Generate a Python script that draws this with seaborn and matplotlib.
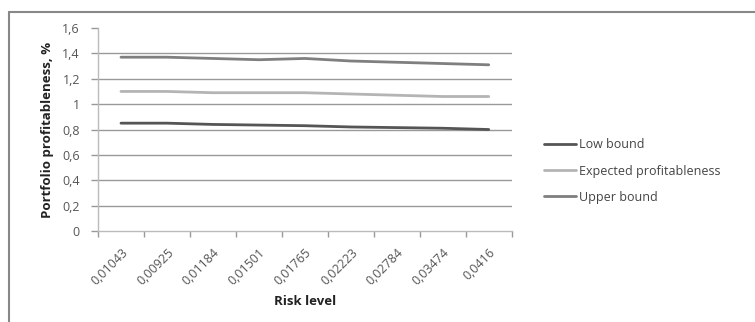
import matplotlib
matplotlib.use('Agg')
import matplotlib.pyplot as plt
from matplotlib.lines import Line2D
import seaborn as sns
import pandas as pd

# Data
risk_levels = ['0,01043', '0,00925', '0,01184', '0,01501', '0,01765',
               '0,02223', '0,02784', '0,03474', '0,0416']
low_bound = [0.85, 0.85, 0.84, 0.835, 0.83, 0.82, 0.815, 0.81, 0.80]
expected = [1.10, 1.10, 1.09, 1.09, 1.09, 1.08, 1.07, 1.06, 1.06]
upper_bound = [1.37, 1.37, 1.36, 1.35, 1.36, 1.34, 1.33, 1.32, 1.31]
series_names = ['Low bound', 'Expected profitableness', 'Upper bound']
y_ticks = [0, 0.2, 0.4, 0.6, 0.8, 1.0, 1.2, 1.4, 1.6]
y_labels = ['0', '0,2', '0,4', '0,6', '0,8', '1', '1,2', '1,4', '1,6']

colors = ['#555555', '#b4b4b4', '#7f7f7f']

sns.set_theme(style='white')
plt.rcParams['font.family'] = ['Open Sans', 'DejaVu Sans']

df = pd.DataFrame({
    'x': list(range(len(risk_levels))) * 3,
    'value': low_bound + expected + upper_bound,
    'series': [s for s in series_names for _ in risk_levels],
})

fig = plt.figure(figsize=(7.55, 3.22), dpi=100)
ax = fig.add_axes([0.1298, 0.2826, 0.548, 0.6304])

sns.lineplot(data=df, x='x', y='value', hue='series', palette=colors,
             hue_order=series_names, linewidth=2, ax=ax, legend=False)

ax.set_xlim(-0.5, len(risk_levels) - 0.5)
ax.set_ylim(0, 1.6)
ax.set_yticks(y_ticks)
ax.set_yticklabels(y_labels, fontsize=9, color='#555555')
ax.set_xticks(range(len(risk_levels)))
ax.set_xticklabels(risk_levels, rotation=45, ha='right',
                   rotation_mode='anchor', fontsize=9, color='#555555')
ax.set_xticks([i - 0.5 for i in range(len(risk_levels) + 1)], minor=True)
ax.tick_params(axis='x', which='major', length=0, pad=11)
ax.tick_params(axis='x', which='minor', length=4, color='#999999', width=1,
               bottom=True)
ax.tick_params(axis='y', length=5, color='#999999', width=1, left=True,
               pad=8)

for y in y_ticks[1:-1]:
    ax.axhline(y, color='#999999', linewidth=1, zorder=0)

for side in ['top', 'right']:
    ax.spines[side].set_visible(False)
for side in ['left', 'bottom']:
    ax.spines[side].set_color('#bbbbbb')
    ax.spines[side].set_linewidth(1)

ax.set_xlabel('Risk level', fontsize=9.5, fontweight='bold', labelpad=5,
              color='#222222')
ax.set_ylabel('Portfolio profitableness, %', fontsize=9.5, fontweight='bold',
              labelpad=6, color='#222222')

handles = [Line2D([], [], color=c, linewidth=2) for c in colors]
fig.legend(handles, series_names, loc='upper left',
           bbox_to_anchor=(0.705, 0.605), frameon=False, fontsize=9,
           handlelength=2.6, handletextpad=0.2, labelspacing=1.05,
           labelcolor='#444444')

# Chart frame (only top and left edges visible in the crop)
fig.add_artist(Line2D([9 / 755, 1], [1 - 12 / 322, 1 - 12 / 322],
                      color='#888888', linewidth=1.5))
fig.add_artist(Line2D([9 / 755, 9 / 755], [0, 1 - 12 / 322],
                      color='#888888', linewidth=1.5))

fig.savefig('out.png', dpi=100)
plt.close(fig)
